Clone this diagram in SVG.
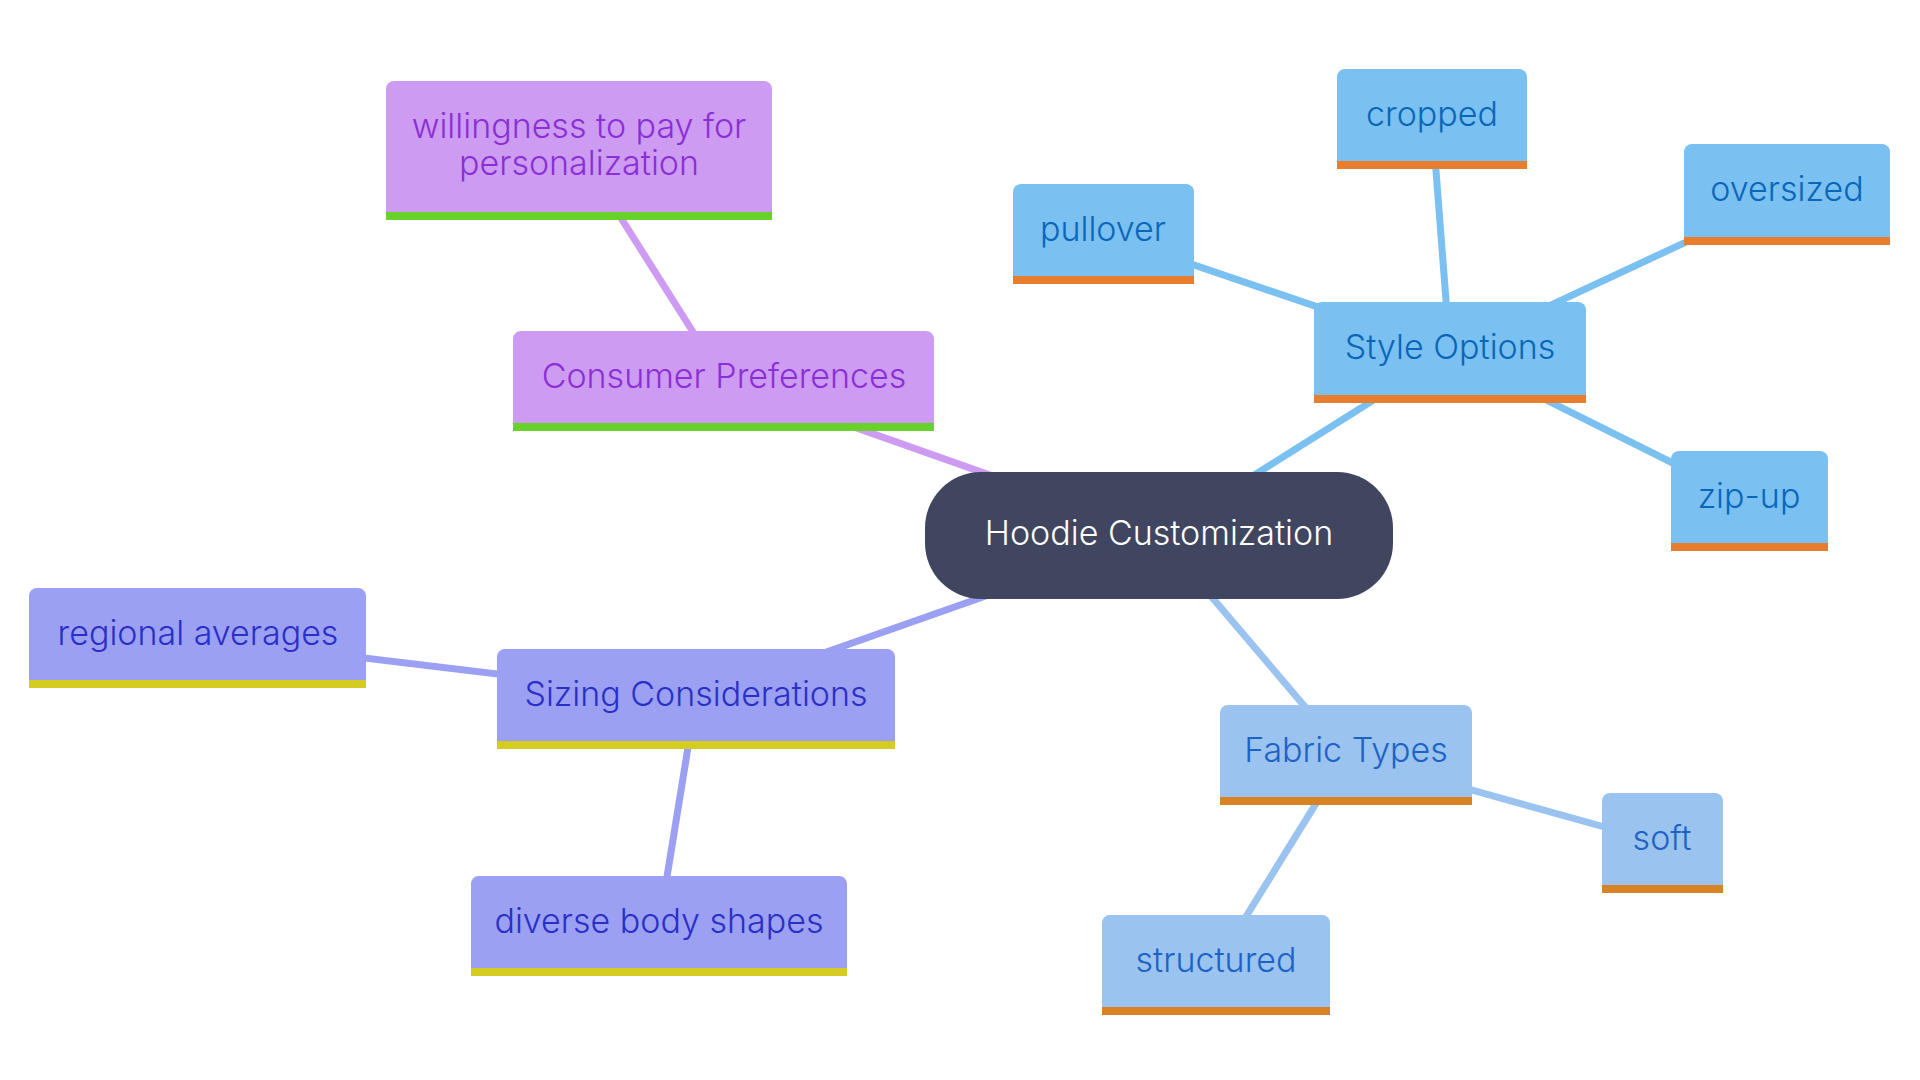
<svg xmlns="http://www.w3.org/2000/svg" width="1920" height="1080" viewBox="0 0 1920 1080">
<style>
text{font-family:Inter,"Noto Sans","Liberation Sans",sans-serif;font-size:34px;font-weight:300;text-anchor:middle}
.c{stroke-width:7;stroke-linecap:butt;fill:none}
.sb{fill:#7ac0f0}.st{fill:#0a66b8}.so{fill:#e87d2e}
.fb{fill:#9ac3ef}.ft{fill:#1d62c4}.fo{fill:#d98324}
.pb{fill:#ce9bf2}.pt{fill:#8a2fd6}.po{fill:#68d12a}
.zb{fill:#9ba0f2}.zt{fill:#2a2fc7}.zo{fill:#d5cc22}
</style>
<rect width="1920" height="1080" fill="#ffffff"/>
<g id="connectors">
<line class="c" stroke="#7ac0f0" x1="1159" y1="535" x2="1450" y2="352"/>
<line class="c" stroke="#9ac3ef" x1="1159" y1="535" x2="1346" y2="755"/>
<line class="c" stroke="#9ba0f2" x1="1159" y1="535" x2="696" y2="698"/>
<line class="c" stroke="#ce9bf2" x1="1159" y1="535" x2="724" y2="381"/>
<line class="c" stroke="#7ac0f0" x1="1450" y1="352" x2="1432" y2="119"/>
<line class="c" stroke="#7ac0f0" x1="1450" y1="352" x2="1103" y2="234"/>
<line class="c" stroke="#7ac0f0" x1="1450" y1="352" x2="1787" y2="195"/>
<line class="c" stroke="#7ac0f0" x1="1450" y1="352" x2="1749" y2="501"/>
<line class="c" stroke="#9ac3ef" x1="1346" y1="755" x2="1662" y2="843"/>
<line class="c" stroke="#9ac3ef" x1="1346" y1="755" x2="1216" y2="965"/>
<line class="c" stroke="#ce9bf2" x1="724" y1="381" x2="578" y2="150"/>
<line class="c" stroke="#9ba0f2" x1="696" y1="698" x2="198" y2="638"/>
<line class="c" stroke="#9ba0f2" x1="696" y1="698" x2="659" y2="926"/>
</g>
<g id="hoodie-customization">
<rect x="925" y="472" width="468" height="127" rx="56" fill="#414660"/>
<text x="1159" y="545" fill="#ffffff">Hoodie Customization</text>
</g>
<g id="style-options">
<rect class="sb" x="1314" y="302" width="272" height="101" rx="8"/>
<rect class="so" x="1314" y="395" width="272" height="8"/>
<text class="st" x="1450" y="359">Style Options</text>
</g>
<g id="cropped">
<rect class="sb" x="1337" y="69" width="190" height="100" rx="8"/>
<rect class="so" x="1337" y="161" width="190" height="8"/>
<text class="st" x="1432" y="126">cropped</text>
</g>
<g id="pullover">
<rect class="sb" x="1013" y="184" width="181" height="100" rx="8"/>
<rect class="so" x="1013" y="276" width="181" height="8"/>
<text class="st" x="1103" y="241">pullover</text>
</g>
<g id="oversized">
<rect class="sb" x="1684" y="144" width="206" height="101" rx="8"/>
<rect class="so" x="1684" y="237" width="206" height="8"/>
<text class="st" x="1787" y="201">oversized</text>
</g>
<g id="zip-up">
<rect class="sb" x="1671" y="451" width="157" height="100" rx="8"/>
<rect class="so" x="1671" y="543" width="157" height="8"/>
<text class="st" x="1749" y="508">zip-up</text>
</g>
<g id="fabric-types">
<rect class="fb" x="1220" y="705" width="252" height="100" rx="8"/>
<rect class="fo" x="1220" y="797" width="252" height="8"/>
<text class="ft" x="1346" y="762">Fabric Types</text>
</g>
<g id="soft">
<rect class="fb" x="1602" y="793" width="121" height="100" rx="8"/>
<rect class="fo" x="1602" y="885" width="121" height="8"/>
<text class="ft" x="1662" y="850">soft</text>
</g>
<g id="structured">
<rect class="fb" x="1102" y="915" width="228" height="100" rx="8"/>
<rect class="fo" x="1102" y="1007" width="228" height="8"/>
<text class="ft" x="1216" y="972">structured</text>
</g>
<g id="consumer-preferences">
<rect class="pb" x="513" y="331" width="421" height="100" rx="8"/>
<rect class="po" x="513" y="423" width="421" height="8"/>
<text class="pt" x="724" y="388">Consumer Preferences</text>
</g>
<g id="willingness">
<rect class="pb" x="386" y="81" width="386" height="139" rx="8"/>
<rect class="po" x="386" y="212" width="386" height="8"/>
<text class="pt" x="579" y="138">willingness to pay for</text>
<text class="pt" x="579" y="175">personalization</text>
</g>
<g id="sizing-considerations">
<rect class="zb" x="497" y="649" width="398" height="100" rx="8"/>
<rect class="zo" x="497" y="741" width="398" height="8"/>
<text class="zt" x="696" y="706">Sizing Considerations</text>
</g>
<g id="regional-averages">
<rect class="zb" x="29" y="588" width="337" height="100" rx="8"/>
<rect class="zo" x="29" y="680" width="337" height="8"/>
<text class="zt" x="198" y="645">regional averages</text>
</g>
<g id="diverse-body-shapes">
<rect class="zb" x="471" y="876" width="376" height="100" rx="8"/>
<rect class="zo" x="471" y="968" width="376" height="8"/>
<text class="zt" x="659" y="933">diverse body shapes</text>
</g>
</svg>
